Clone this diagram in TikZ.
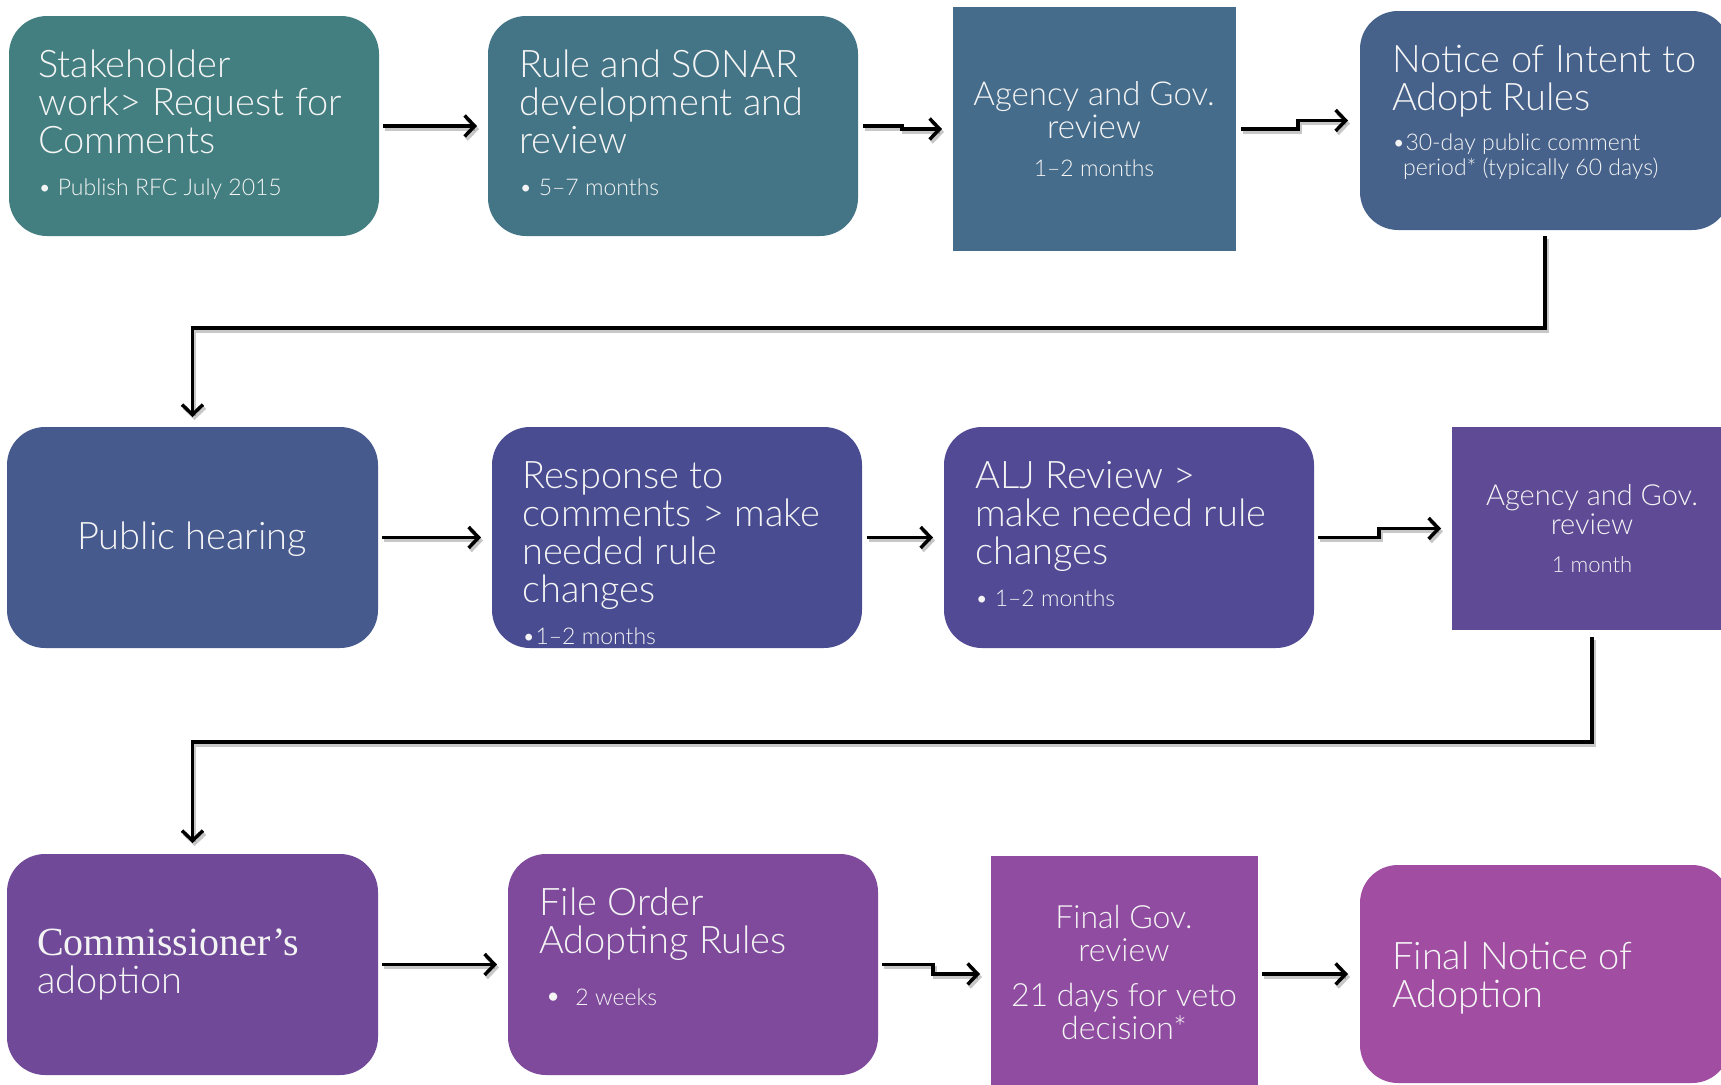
\documentclass[tikz,border=0pt]{standalone}
\usepackage{fontspec}
\setmainfont{Lato Light}
\newfontfamily\serifface{Liberation Serif}
\usetikzlibrary{arrows.meta}
\definecolor{c1}{HTML}{437F80}
\definecolor{c2}{HTML}{447587}
\definecolor{c3}{HTML}{456C8B}
\definecolor{c4}{HTML}{46628B}
\definecolor{c5}{HTML}{465A8E}
\definecolor{c6}{HTML}{494C91}
\definecolor{c7}{HTML}{524A94}
\definecolor{c8}{HTML}{5F4A96}
\definecolor{c9}{HTML}{704A98}
\definecolor{c10}{HTML}{7F4A9C}
\definecolor{c11}{HTML}{8F4CA0}
\definecolor{c12}{HTML}{A04DA2}
\definecolor{txt}{HTML}{F4F4F4}
\begin{document}
\begin{tikzpicture}[x=1pt,y=-1pt,
  rbox/.style={fill=#1, draw=none, rounded corners=38pt, inner sep=0pt, outer sep=0pt, anchor=north west},
  sbox/.style={fill=#1, draw=none, inner sep=0pt, outer sep=0pt, anchor=north west},
  ttl/.style={text=txt, inner sep=0pt, align=left, anchor=north west, font=\fontsize{38}{38}\selectfont},
  sub/.style={text=txt, inner sep=0pt, align=left, anchor=north west, font=\fontsize{23}{25}\selectfont},
  cttl/.style={text=txt, inner sep=0pt, align=center, anchor=north},
  flow/.style={line width=3.5pt, black, -{Straight Barb[length=10pt,width=21pt,line width=3.5pt]},
    preaction={draw=black, opacity=0.22, line width=3.5pt, transform canvas={shift={(2pt,-3pt)}}}},
]
\useasboundingbox (0,0) rectangle (1721,1084);
\clip (0,0) rectangle (1721,1084);
% boxes
\node[rbox=c1, minimum width=370pt, minimum height=220pt] (b1) at (9,16) {};
\node[rbox=c2, minimum width=370pt, minimum height=220pt] (b2) at (488,16) {};
\node[sbox=c3, minimum width=283pt, minimum height=244pt] (b3) at (953,7) {};
\node[rbox=c4, minimum width=370pt, minimum height=219pt] (b4) at (1360,11) {};
\node[rbox=c5, minimum width=371pt, minimum height=221pt] (b5) at (7,427) {};
\node[rbox=c6, minimum width=370pt, minimum height=221pt] (b6) at (492,427) {};
\node[rbox=c7, minimum width=370pt, minimum height=221pt] (b7) at (944,427) {};
\node[sbox=c8, minimum width=280pt, minimum height=203pt] (b8) at (1452,427) {};
\node[rbox=c9, minimum width=371pt, minimum height=221pt] (b9) at (7,854) {};
\node[rbox=c10, minimum width=370pt, minimum height=221pt] (b10) at (508,854) {};
\node[sbox=c11, minimum width=267pt, minimum height=236pt] (b11) at (991,856) {};
\node[rbox=c12, minimum width=370pt, minimum height=218pt] (b12) at (1360,865) {};
% texts
\node[ttl] (t1) at (38,50) {Stakeholder\\work> Request for\\Comments};
\node[sub] (t1b) at (38,179) {• Publish RFC July 2015};
\node[ttl] (t2) at (519,50) {Rule and SONAR\\development and\\review};
\node[sub] (t2b) at (519,179) {• 5–7 months};
\node[cttl, font=\fontsize{33}{33}\selectfont] (t3) at (1094,81) {Agency and Gov.\\review};
\node[cttl, font=\fontsize{23}{25}\selectfont] (t3b) at (1094,160) {1–2 months};
\node[ttl] (t4) at (1392,45) {Notice of Intent to\\Adopt Rules};
\node[sub] (t4b) at (1392,134) {•30-day public comment\\\hspace*{11pt}period* (typically 60 days)};
\node[text=txt, inner sep=0pt, font=\fontsize{38}{38}\selectfont] (t5) at (192,539) {Public hearing};
\node[ttl] (t6) at (522,461) {Response to\\comments > make\\needed rule\\changes};
\node[sub] (t6b) at (522,628) {•1–2 months};
\node[ttl] (t7) at (975,461) {ALJ Review >\\make needed rule\\changes};
\node[sub] (t7b) at (975,590) {• 1–2 months};
\node[cttl, font=\fontsize{29}{29}\selectfont] (t8) at (1592,484) {Agency and Gov.\\review};
\node[cttl, font=\fontsize{22}{24}\selectfont] (t8b) at (1592,556) {1 month};
\node[ttl] (t9) at (37,929) {{\serifface\fontsize{40}{38}\selectfont Commissioner’s}\\adoption};
\node[ttl] (t10) at (539,888) {File Order\\Adopting Rules};
\node[sub] (t10b) at (545,989) {{\fontsize{28}{25}\selectfont •}\hspace{14pt}2 weeks};
\node[cttl, font=\fontsize{32}{33}\selectfont] (t11) at (1124,905) {Final Gov.\\review};
\node[cttl, font=\fontsize{32}{33}\selectfont] (t11b) at (1124,983) {21 days for veto\\decision*};
\node[ttl] (t12) at (1392,942) {Final Notice of\\Adoption};
% connectors
\draw[flow, shorten <=4pt, shorten >=11pt] (b1.east) -- (b2.west);
\draw[flow, shorten <=5pt, shorten >=11pt] (b2.east) -- ++(44,0) |- (b3.west);
\draw[flow, shorten <=5pt, shorten >=12pt] (b3.east) -- ++(62,0) |- (b4.west);
\draw[flow, shorten <=6pt, shorten >=10pt] (b4.south) -- ++(0,98) -| (b5.north);
\draw[flow, shorten <=4pt, shorten >=11pt] (b5.east) -- (b6.west);
\draw[flow, shorten <=5pt, shorten >=11pt] (b6.east) -- (b7.west);
\draw[flow, shorten <=4pt, shorten >=11pt] (b7.east) -- ++(65,0) |- (b8.west);
\draw[flow, shorten <=7pt, shorten >=11pt] (b8.south) -- ++(0,112) -| (b9.north);
\draw[flow, shorten <=4pt, shorten >=11pt] (b9.east) -- (b10.west);
\draw[flow, shorten <=4pt, shorten >=11pt] (b10.east) -- ++(55,0) |- (b11.west);
\draw[flow, shorten <=4pt, shorten >=12pt] (b11.east) -- (b12.west);
\end{tikzpicture}
\end{document}
